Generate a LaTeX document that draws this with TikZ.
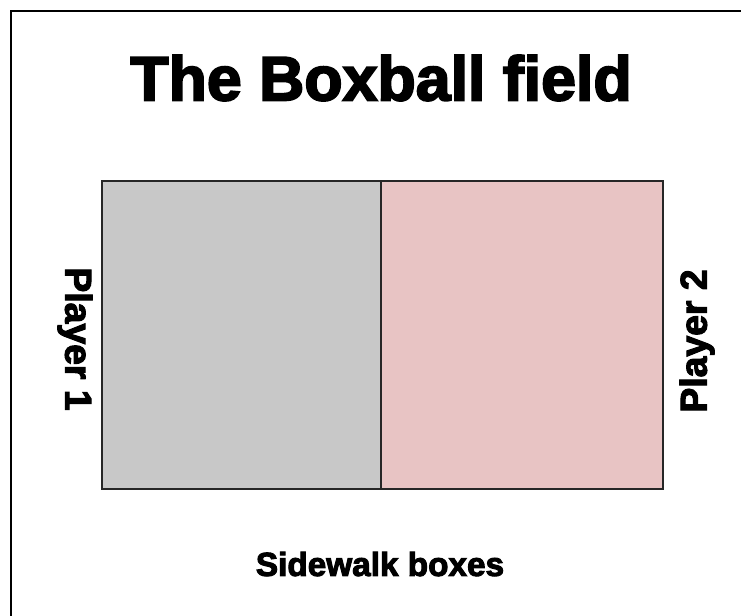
\documentclass[tikz,border=0pt]{standalone}
\usepackage{fontspec}
\setmainfont{Liberation Sans}[BoldFeatures={FakeBold=3}]
\definecolor{leftgray}{HTML}{C8C8C8}
\definecolor{rightpink}{HTML}{E8C4C4}
\tikzset{
  half/.style={draw=black!85, line width=1.5pt, minimum height=308*0.75pt, inner sep=0pt, outer sep=0pt, anchor=north west},
  label/.style={font=\bfseries\fontsize{25}{30}\selectfont, inner sep=0pt}
}
\begin{document}
\begin{tikzpicture}[x=0.75pt, y=-0.75pt]
  % 1. page and frame
  \useasboundingbox (0,0) rectangle (741,616);
  \fill[white] (0,0) rectangle (741,616);
  \draw[line width=1.5pt] (11,616) -- (11,11) -- (741,11);

  % 2. title
  \node[font=\bfseries\fontsize{47}{52}\selectfont, inner sep=0pt] (title) at (381,78) {The Boxball field};

  % 3. the two halves of the field
  \node[half, fill=leftgray, minimum width=279*0.75pt] (p1box) at (102,181) {};
  \node[half, fill=rightpink, minimum width=282*0.75pt] (p2box) at (p1box.north east) {};

  % 4. labels
  \node[label, font=\bfseries\fontsize{28}{32}\selectfont, rotate=-90] (p1) at (75,339) {Player 1};
  \node[label, font=\bfseries\fontsize{28}{32}\selectfont, rotate=90] (p2) at (697,341) {Player 2};
  \node[label] (walk) at (380,564) {Sidewalk boxes};
\end{tikzpicture}
\end{document}
